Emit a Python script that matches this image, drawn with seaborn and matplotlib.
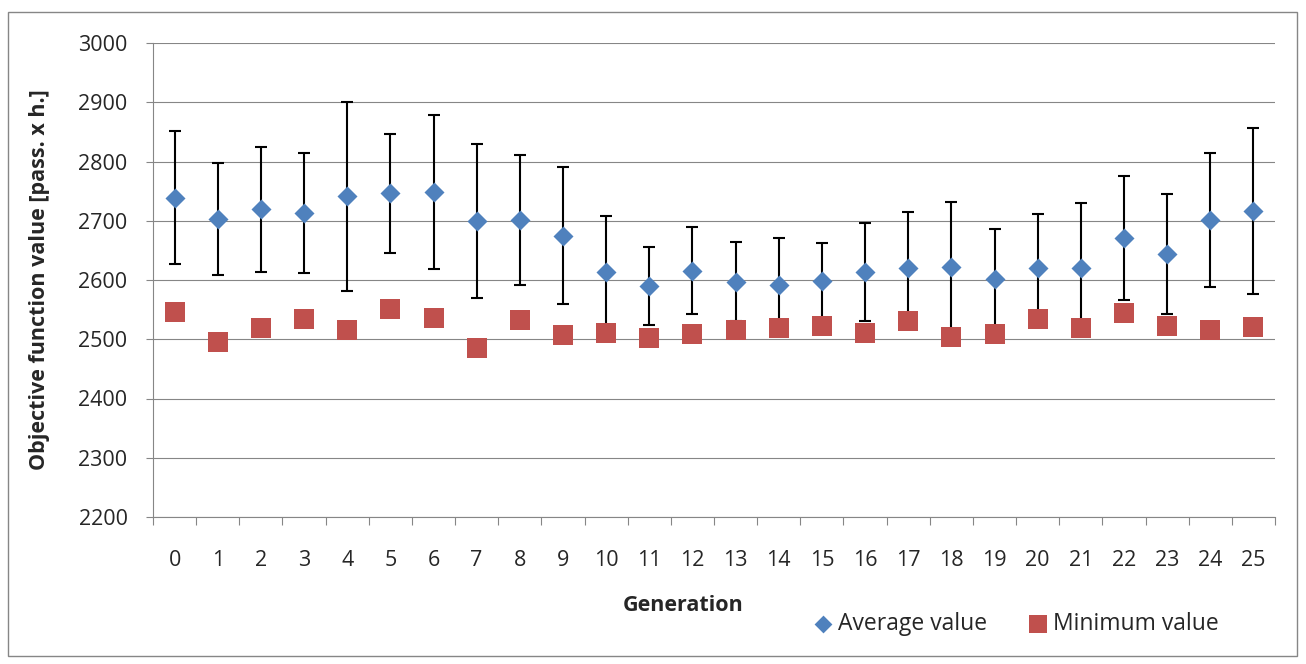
import numpy as np
import pandas as pd
import matplotlib
matplotlib.use("Agg")
import matplotlib.pyplot as plt
import seaborn as sns
from matplotlib.patches import Rectangle
from matplotlib.ticker import MultipleLocator, FixedLocator

# values
generation = list(range(26))
avg_value = [2739, 2703, 2719, 2713, 2741, 2746, 2749, 2699, 2701, 2675,
             2613, 2590, 2616, 2597, 2591, 2599, 2613, 2621, 2622, 2602,
             2620, 2621, 2671, 2644, 2701, 2717]
avg_err = [112, 95, 105, 101, 160, 101, 130, 130, 110, 115,
           95, 66, 74, 67, 80, 64, 83, 94, 110, 84,
           92, 109, 104, 101, 113, 140]
min_value = [2546, 2495, 2519, 2534, 2516, 2551, 2536, 2486, 2532, 2507,
             2511, 2502, 2509, 2515, 2519, 2522, 2511, 2530, 2503, 2509,
             2535, 2519, 2544, 2523, 2516, 2520]

df = pd.DataFrame({"Generation": generation, "Average": avg_value,
                   "Error": avg_err, "Minimum": min_value})

sns.set_style("white")
plt.rcParams['font.family'] = ['Open Sans', 'DejaVu Sans']

fs = 15.5
fig = plt.figure(figsize=(13.06, 6.64), dpi=100)
ax = fig.add_axes([153 / 1306, 1 - 517 / 664, 1122 / 1306, 474 / 664])

grey = "#868686"
blue = "#4F81BD"
red = "#C0504D"

# error bars first, markers on top
ax.errorbar(df["Generation"], df["Average"], yerr=df["Error"], fmt="none",
            ecolor="black", elinewidth=1.5, capsize=4.3, capthick=1.5, zorder=2)
sns.scatterplot(data=df, x="Generation", y="Average", marker="D", s=104,
                color=blue, linewidth=0, label="Average value", ax=ax, zorder=3)
sns.scatterplot(data=df, x="Generation", y="Minimum", marker="s", s=207,
                color=red, linewidth=0, label="Minimum value", ax=ax, zorder=4)

ax.set_xlim(-0.5, 25.5)
ax.set_ylim(2200, 3000)

# y axis
ax.yaxis.set_major_locator(MultipleLocator(100))
ax.grid(axis="y", color=grey, linewidth=0.8)
ax.grid(axis="x", visible=False)
ax.tick_params(axis="y", which="major", left=True, length=4.8, width=0.8,
               color=grey, pad=13.5, labelsize=fs)

# x axis: tick marks between categories, labels at centres
ax.xaxis.set_major_locator(FixedLocator(np.arange(-0.5, 26, 1)))
ax.xaxis.set_minor_locator(FixedLocator(generation))
ax.set_xticklabels([], minor=False)
ax.set_xticklabels([str(g) for g in generation], minor=True)
ax.tick_params(axis="x", which="major", bottom=True, length=5.5, width=0.8, color=grey)
ax.tick_params(axis="x", which="minor", bottom=True, length=0, pad=24, labelsize=fs)

for side in ["top", "right"]:
    ax.spines[side].set_visible(False)
for side in ["left", "bottom"]:
    ax.spines[side].set_color(grey)
    ax.spines[side].set_linewidth(0.8)

ax.set_xlabel("Generation", fontsize=fs, fontweight="bold")
ax.xaxis.set_label_coords(0.4724, -0.1646)
ax.set_ylabel("Objective function value [pass. x h.]", fontsize=fs, fontweight="bold")
ax.yaxis.set_label_coords(-0.0918, 0.5)

handles, labels = ax.get_legend_handles_labels()
ax.legend(handles, labels, loc="center", bbox_to_anchor=(1015.5 / 1306, 1 - 624.5 / 664),
          bbox_transform=fig.transFigure, ncol=2, frameon=False, fontsize=16.5,
          handletextpad=0.18, columnspacing=1.75, markerscale=0.89, handlelength=0.95,
          borderpad=0)

# outer chart border
fig.patches.append(Rectangle((8 / 1306, 8 / 664), 1289 / 1306, 644 / 664,
                             transform=fig.transFigure, fill=False,
                             edgecolor=grey, linewidth=1))

fig.savefig("out.png", dpi=100)
